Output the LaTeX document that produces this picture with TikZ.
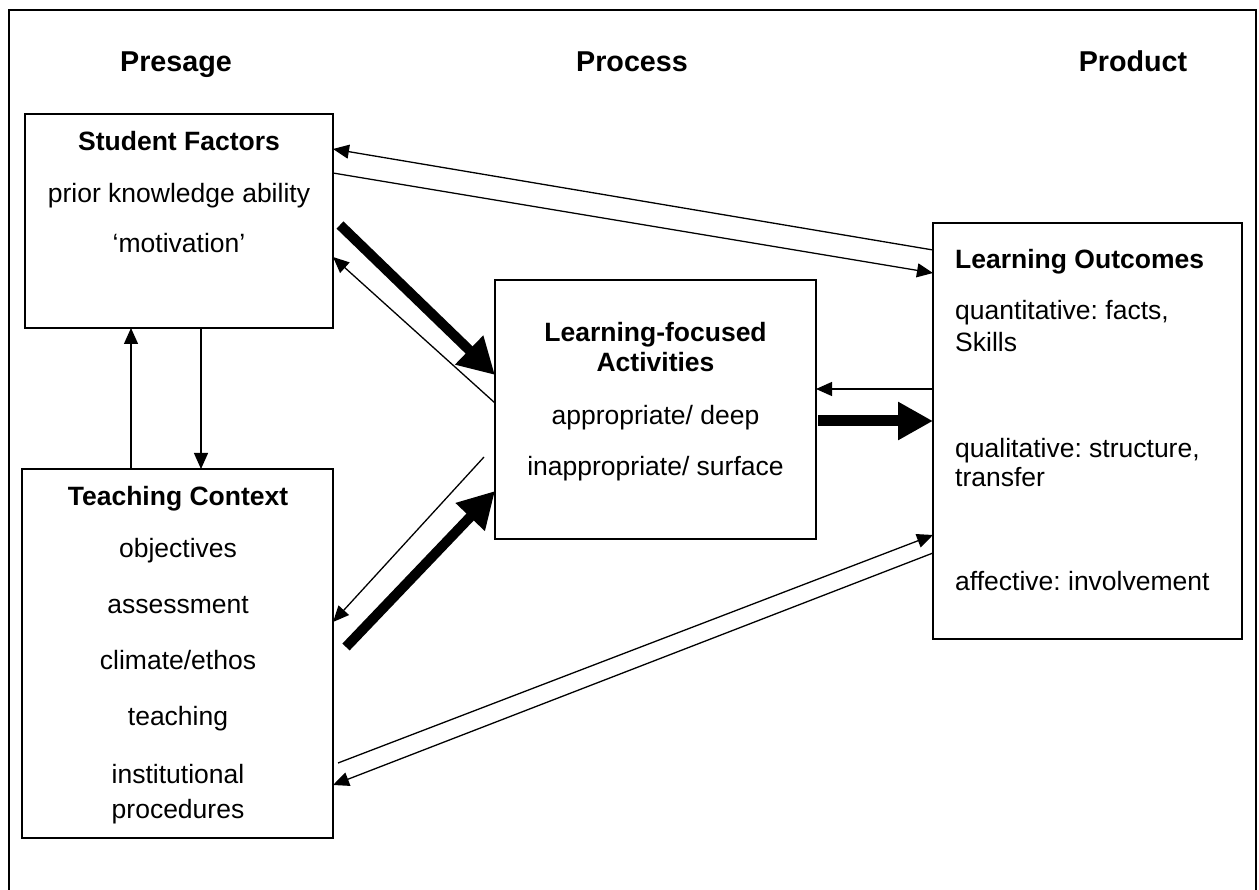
\documentclass[tikz,border=0pt]{standalone}
\usepackage{fontspec}
\setmainfont{Liberation Sans}
\usetikzlibrary{arrows.meta,calc}
\frenchspacing
\begin{document}
\begin{tikzpicture}[x=1pt,y=-1pt,
  box/.style={draw,line width=2.6pt,rectangle,inner sep=0pt,outer sep=0pt},
  txt/.style={inner sep=0pt,anchor=base,font=\fontsize{26.5}{32}\selectfont},
  ltxt/.style={txt,anchor=base west},
  btxt/.style={txt,font=\fontsize{26.5}{32}\selectfont\bfseries},
  head/.style={inner sep=0pt,anchor=base,font=\fontsize{28.7}{34}\selectfont\bfseries},
  thin/.style={line width=1.3pt,-{Triangle[length=16pt,width=14pt]}},
  thick/.style={line width=10pt,-{Triangle[length=36pt,width=38pt]}},
  thickh/.style={line width=11pt,-{Triangle[length=35pt,width=36pt]}}
]
\useasboundingbox (0,0) rectangle (1259,890);
% outer frame (open at the bottom)
\draw[line width=2pt] (9,895) -- (9,10) -- (1255.5,10) -- (1255.5,895);

% headings
\node[head] (hpre) at (176,72) {Presage};
\node[head] (hproc) at (632,72) {Process};
\node[head] (hprod) at (1133,72) {Product};

% boxes
\node[box,minimum width=308pt,minimum height=214pt] (sf) at (179,221) {};
\node[box,minimum width=311pt,minimum height=369pt] (tc) at (177.5,653.5) {};
\node[box,minimum width=321pt,minimum height=259pt] (lf) at (655.5,409.5) {};
\node[box,minimum width=309pt,minimum height=416pt] (lo) at (1087.5,431) {};

% student factors text
\node[btxt] (sf1) at (179,151) {Student Factors};
\node[txt] (sf2) at (179,203) {prior knowledge ability};
\node[txt] (sf3) at (179,253) {‘motivation’};

% teaching context text
\node[btxt] (tc1) at (178,506) {Teaching Context};
\node[txt] (tc2) at (178,557) {objectives};
\node[txt] (tc3) at (178,613) {assessment};
\node[txt] (tc4) at (178,669) {climate/ethos};
\node[txt] (tc5) at (178,725) {teaching};
\node[txt] (tc6) at (178,783) {institutional};
\node[txt] (tc7) at (178,818) {procedures};

% learning-focused activities text
\node[btxt] (lf1) at (655.5,342) {Learning-focused};
\node[btxt] (lf2) at (655.5,372) {Activities};
\node[txt] (lf3) at (655.5,425) {appropriate/ deep};
\node[txt] (lf4) at (655.5,476) {inappropriate/ surface};

% learning outcomes text
\node[ltxt,font=\fontsize{26.5}{32}\selectfont\bfseries] (lo1) at (955,269) {Learning Outcomes};
\node[ltxt] (lo2) at (955,320) {quantitative: facts,};
\node[ltxt] (lo3) at (955,352) {Skills};
\node[ltxt] (lo4) at (955,457) {qualitative: structure,};
\node[ltxt] (lo5) at (955,486) {transfer};
\node[ltxt] (lo6) at (955,590) {affective: involvement};

% connectors
\draw[thin] (lo.west |- 0,250) -- (sf.east |- 0,149);
\draw[thin] (sf.east |- 0,173) -- (lo.west |- 0,273);
\draw[thick] ($(sf.east |- 0,225)+(7,0)$) -- (lf.west |- 0,375);
\draw[thin] (lf.west |- 0,403) -- (sf.east |- 0,257);
\draw[thin] ($(lf.west |- 0,457)+(-11,0)$) -- (tc.east |- 0,622);
\draw[thick] ($(tc.east |- 0,647)+(13,0)$) -- (lf.west |- 0,491);
\draw[thin] (lo.west |- 0,389) -- (lf.east |- 0,389);
\draw[thickh] ($(lf.east |- 0,421)+(2,0)$) -- (lo.west |- 0,421);
\draw[thin] ($(tc.east |- 0,763)+(5,0)$) -- (lo.west |- 0,535);
\draw[thin] (lo.west |- 0,553) -- (tc.east |- 0,785);
\draw[thin] (tc.north -| 131,0) -- (sf.south -| 131,0);
\draw[thin] (sf.south -| 201,0) -- (tc.north -| 201,0);
\end{tikzpicture}
\end{document}
